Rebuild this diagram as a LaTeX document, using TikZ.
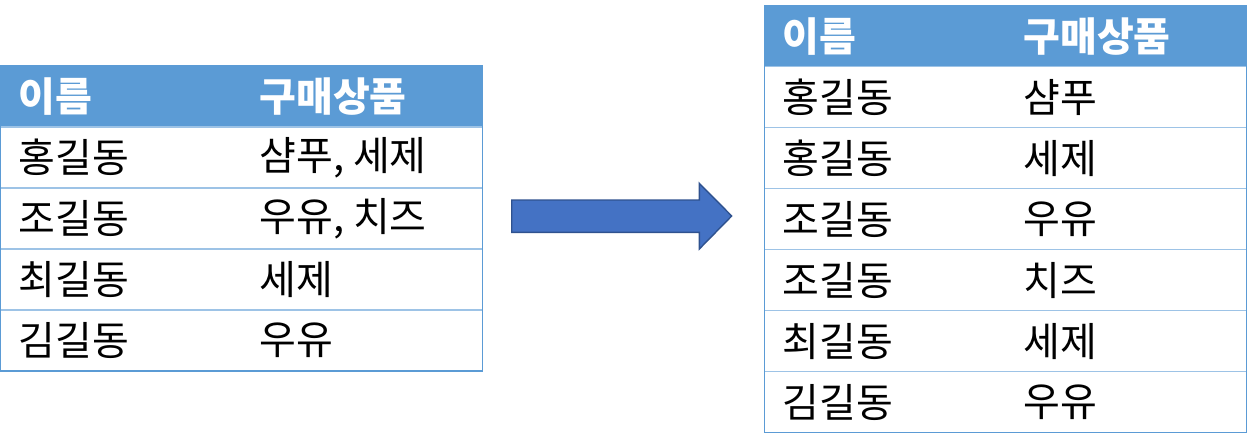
\documentclass[tikz,border=0pt]{standalone}
\usepackage{fontspec}
\newfontfamily\kr{Noto Sans CJK KR}
\usetikzlibrary{positioning}

\definecolor{hdrcolor}{RGB}{91,155,213}
\definecolor{edgecolor}{RGB}{91,155,213}
\definecolor{rulecolor}{RGB}{157,195,230}
\definecolor{arrowfill}{RGB}{68,114,196}
\definecolor{arrowline}{RGB}{47,82,143}

\tikzset{
  hdrrow/.style={fill=hdrcolor, draw=none, minimum width=482pt, minimum height=61pt,
    inner sep=0pt, outer sep=0pt},
  bodyrow/.style={fill=white, draw=none, minimum width=482pt, minimum height=61pt,
    inner sep=0pt, outer sep=0pt},
  cell/.style={anchor=west, inner sep=0pt, outer sep=0pt, font=\kr\fontsize{40}{42}\selectfont},
  hdrcell/.style={cell, text=white, font=\kr\bfseries\fontsize{40}{42}\selectfont},
  rowrule/.style={draw=rulecolor, line width=1.2pt},
  tableedge/.style={draw=edgecolor, line width=1.2pt},
  blockarrow/.style={fill=arrowfill, draw=arrowline, line width=1.4pt, line join=miter}
}

\begin{document}
\begin{tikzpicture}[x=1pt, y=-1pt]
\useasboundingbox (0,0) rectangle (1248,447);

% left table
\node[hdrrow, anchor=north west] (L0) at (0.5,66) {};
\node[bodyrow, below=0pt of L0] (L1) {};
\node[bodyrow, below=0pt of L1] (L2) {};
\node[bodyrow, below=0pt of L2] (L3) {};
\node[bodyrow, below=0pt of L3] (L4) {};
\draw[rowrule] (L1.north west) -- (L1.north east);
\draw[rowrule] (L2.north west) -- (L2.north east);
\draw[rowrule] (L3.north west) -- (L3.north east);
\draw[rowrule] (L4.north west) -- (L4.north east);
\draw[tableedge] (L0.north west) rectangle (L4.south east);

\node[hdrcell] (L0a) at ([xshift=18pt]L0.west) {이름};
\node[hdrcell] (L0b) at ([xshift=259pt]L0.west) {구매상품};
\node[cell] (L1a) at ([xshift=18pt]L1.west) {홍길동};
\node[cell] (L1b) at ([xshift=259pt]L1.west) {샴푸, 세제};
\node[cell] (L2a) at ([xshift=18pt]L2.west) {조길동};
\node[cell] (L2b) at ([xshift=259pt]L2.west) {우유, 치즈};
\node[cell] (L3a) at ([xshift=18pt]L3.west) {최길동};
\node[cell] (L3b) at ([xshift=259pt]L3.west) {세제};
\node[cell] (L4a) at ([xshift=18pt]L4.west) {김길동};
\node[cell] (L4b) at ([xshift=259pt]L4.west) {우유};

% block arrow
\draw[blockarrow] (511.7,200) -- (699.3,200) -- (699.3,183.3) -- (731.7,216)
  -- (699.3,249) -- (699.3,232.3) -- (511.7,232.3) -- cycle;

% right table
\node[hdrrow, anchor=north west] (R0) at (764.5,5.7) {};
\node[bodyrow, below=0pt of R0] (R1) {};
\node[bodyrow, below=0pt of R1] (R2) {};
\node[bodyrow, below=0pt of R2] (R3) {};
\node[bodyrow, below=0pt of R3] (R4) {};
\node[bodyrow, below=0pt of R4] (R5) {};
\node[bodyrow, below=0pt of R5] (R6) {};
\draw[rowrule] (R1.north west) -- (R1.north east);
\draw[rowrule] (R2.north west) -- (R2.north east);
\draw[rowrule] (R3.north west) -- (R3.north east);
\draw[rowrule] (R4.north west) -- (R4.north east);
\draw[rowrule] (R5.north west) -- (R5.north east);
\draw[rowrule] (R6.north west) -- (R6.north east);
\draw[tableedge] (R0.north west) rectangle (R6.south east);

\node[hdrcell] (R0a) at ([xshift=18pt]R0.west) {이름};
\node[hdrcell] (R0b) at ([xshift=259pt]R0.west) {구매상품};
\node[cell] (R1a) at ([xshift=18pt]R1.west) {홍길동};
\node[cell] (R1b) at ([xshift=259pt]R1.west) {샴푸};
\node[cell] (R2a) at ([xshift=18pt]R2.west) {홍길동};
\node[cell] (R2b) at ([xshift=259pt]R2.west) {세제};
\node[cell] (R3a) at ([xshift=18pt]R3.west) {조길동};
\node[cell] (R3b) at ([xshift=259pt]R3.west) {우유};
\node[cell] (R4a) at ([xshift=18pt]R4.west) {조길동};
\node[cell] (R4b) at ([xshift=259pt]R4.west) {치즈};
\node[cell] (R5a) at ([xshift=18pt]R5.west) {최길동};
\node[cell] (R5b) at ([xshift=259pt]R5.west) {세제};
\node[cell] (R6a) at ([xshift=18pt]R6.west) {김길동};
\node[cell] (R6b) at ([xshift=259pt]R6.west) {우유};
\end{tikzpicture}
\end{document}
